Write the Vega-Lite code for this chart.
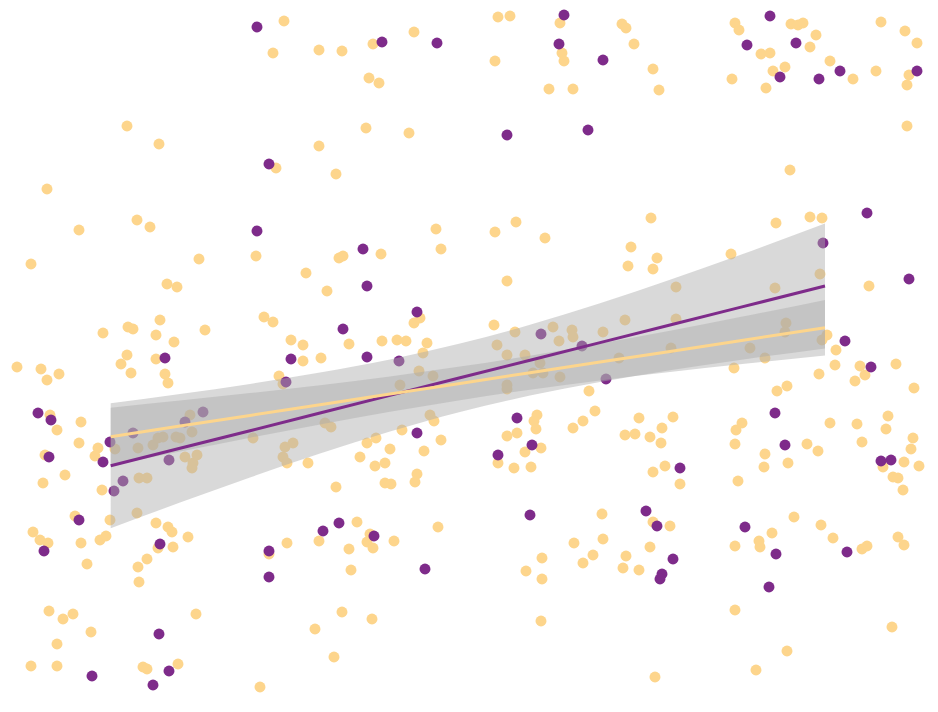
{
"$schema": "https://vega.github.io/schema/vega-lite/v6.json",
"width": 938, "height": 712,
"autosize": {"type": "fit", "contains": "padding"},
"padding": 0,
"background": "white",
"config": {"view": {"stroke": null}},
"datasets": {
"points": [
{"g":"a","x":284,"y":21},{"g":"a","x":273,"y":53},{"g":"a","x":127,"y":126},{"g":"a","x":159,"y":144},{"g":"a","x":276,"y":168},{"g":"a","x":47,"y":189},{"g":"a","x":79,"y":230},{"g":"a","x":137,"y":220},{"g":"a","x":150,"y":227},{"g":"a","x":31,"y":264},{"g":"a","x":199,"y":259},{"g":"a","x":256,"y":256},{"g":"a","x":306,"y":273},{"g":"a","x":167,"y":284},{"g":"a","x":177,"y":287},{"g":"a","x":264,"y":317},{"g":"a","x":273,"y":322},{"g":"a","x":103,"y":333},{"g":"a","x":128,"y":327},{"g":"a","x":133,"y":329},{"g":"a","x":160,"y":320},{"g":"a","x":156,"y":335},{"g":"a","x":174,"y":342},{"g":"a","x":205,"y":330},{"g":"a","x":291,"y":340},{"g":"a","x":303,"y":345},
{"g":"a","x":319,"y":50},{"g":"a","x":342,"y":51},{"g":"a","x":373,"y":44},{"g":"a","x":414,"y":32},{"g":"a","x":369,"y":78},{"g":"a","x":379,"y":83},{"g":"a","x":498,"y":17},{"g":"a","x":510,"y":16},{"g":"a","x":560,"y":23},{"g":"a","x":562,"y":53},{"g":"a","x":564,"y":61},{"g":"a","x":495,"y":61},{"g":"a","x":549,"y":89},{"g":"a","x":573,"y":89},{"g":"a","x":366,"y":128},{"g":"a","x":409,"y":133},{"g":"a","x":319,"y":146},{"g":"a","x":336,"y":174},{"g":"a","x":436,"y":229},{"g":"a","x":441,"y":249},{"g":"a","x":495,"y":232},{"g":"a","x":516,"y":222},{"g":"a","x":545,"y":238},{"g":"a","x":381,"y":254},{"g":"a","x":339,"y":258},{"g":"a","x":343,"y":256},{"g":"a","x":327,"y":291},{"g":"a","x":507,"y":281},{"g":"a","x":414,"y":323},{"g":"a","x":420,"y":318},{"g":"a","x":349,"y":344},{"g":"a","x":382,"y":341},{"g":"a","x":397,"y":340},{"g":"a","x":406,"y":341},{"g":"a","x":427,"y":343},{"g":"a","x":494,"y":325},{"g":"a","x":515,"y":332},{"g":"a","x":553,"y":327},{"g":"a","x":572,"y":330},{"g":"a","x":573,"y":337},{"g":"a","x":603,"y":332},{"g":"a","x":497,"y":345},{"g":"a","x":559,"y":341},
{"g":"a","x":622,"y":24},{"g":"a","x":626,"y":28},{"g":"a","x":634,"y":44},{"g":"a","x":653,"y":69},{"g":"a","x":659,"y":90},{"g":"a","x":735,"y":23},{"g":"a","x":739,"y":30},{"g":"a","x":791,"y":24},{"g":"a","x":798,"y":25},{"g":"a","x":803,"y":23},{"g":"a","x":816,"y":35},{"g":"a","x":810,"y":47},{"g":"a","x":761,"y":54},{"g":"a","x":770,"y":53},{"g":"a","x":830,"y":61},{"g":"a","x":853,"y":79},{"g":"a","x":876,"y":71},{"g":"a","x":881,"y":22},{"g":"a","x":905,"y":31},{"g":"a","x":917,"y":43},{"g":"a","x":909,"y":75},{"g":"a","x":907,"y":85},{"g":"a","x":773,"y":71},{"g":"a","x":785,"y":67},{"g":"a","x":732,"y":79},{"g":"a","x":766,"y":88},{"g":"a","x":907,"y":126},{"g":"a","x":790,"y":170},{"g":"a","x":651,"y":218},{"g":"a","x":776,"y":223},{"g":"a","x":810,"y":217},{"g":"a","x":822,"y":218},{"g":"a","x":631,"y":247},{"g":"a","x":628,"y":266},{"g":"a","x":657,"y":258},{"g":"a","x":653,"y":269},{"g":"a","x":731,"y":254},{"g":"a","x":676,"y":287},{"g":"a","x":775,"y":288},{"g":"a","x":820,"y":274},{"g":"a","x":869,"y":286},{"g":"a","x":625,"y":320},{"g":"a","x":676,"y":319},{"g":"a","x":786,"y":323},{"g":"a","x":785,"y":332},{"g":"a","x":750,"y":348},{"g":"a","x":671,"y":348},{"g":"a","x":822,"y":340},{"g":"a","x":827,"y":335},{"g":"a","x":836,"y":350},
{"g":"a","x":17,"y":367},{"g":"a","x":41,"y":369},{"g":"a","x":47,"y":380},{"g":"a","x":59,"y":374},{"g":"a","x":127,"y":355},{"g":"a","x":121,"y":364},{"g":"a","x":131,"y":373},{"g":"a","x":156,"y":359},{"g":"a","x":165,"y":374},{"g":"a","x":168,"y":383},{"g":"a","x":303,"y":361},{"g":"a","x":321,"y":358},{"g":"a","x":279,"y":376},{"g":"a","x":283,"y":384},{"g":"a","x":50,"y":415},{"g":"a","x":57,"y":430},{"g":"a","x":81,"y":422},{"g":"a","x":79,"y":443},{"g":"a","x":45,"y":455},{"g":"a","x":65,"y":475},{"g":"a","x":43,"y":483},{"g":"a","x":98,"y":448},{"g":"a","x":95,"y":456},{"g":"a","x":102,"y":490},{"g":"a","x":75,"y":516},{"g":"a","x":110,"y":520},{"g":"a","x":137,"y":513},{"g":"a","x":115,"y":449},{"g":"a","x":138,"y":448},{"g":"a","x":139,"y":478},{"g":"a","x":147,"y":478},{"g":"a","x":158,"y":438},{"g":"a","x":163,"y":437},{"g":"a","x":153,"y":445},{"g":"a","x":176,"y":437},{"g":"a","x":190,"y":415},{"g":"a","x":180,"y":438},{"g":"a","x":192,"y":432},{"g":"a","x":185,"y":457},{"g":"a","x":193,"y":463},{"g":"a","x":197,"y":455},{"g":"a","x":192,"y":468},{"g":"a","x":253,"y":438},{"g":"a","x":285,"y":447},{"g":"a","x":293,"y":443},{"g":"a","x":283,"y":457},{"g":"a","x":287,"y":463},{"g":"a","x":308,"y":463},{"g":"a","x":325,"y":423},{"g":"a","x":331,"y":427},{"g":"a","x":33,"y":532},{"g":"a","x":40,"y":540},{"g":"a","x":48,"y":543},{"g":"a","x":81,"y":543},{"g":"a","x":100,"y":540},{"g":"a","x":106,"y":536},{"g":"a","x":87,"y":564},{"g":"a","x":156,"y":523},{"g":"a","x":168,"y":527},{"g":"a","x":172,"y":532},{"g":"a","x":188,"y":537},{"g":"a","x":158,"y":548},{"g":"a","x":173,"y":547},{"g":"a","x":147,"y":559},{"g":"a","x":138,"y":567},{"g":"a","x":139,"y":582},{"g":"a","x":269,"y":554},{"g":"a","x":287,"y":543},{"g":"a","x":49,"y":611},{"g":"a","x":63,"y":619},{"g":"a","x":73,"y":614},{"g":"a","x":91,"y":632},{"g":"a","x":196,"y":614},{"g":"a","x":57,"y":644},{"g":"a","x":31,"y":666},{"g":"a","x":57,"y":666},{"g":"a","x":143,"y":667},{"g":"a","x":147,"y":669},{"g":"a","x":178,"y":664},{"g":"a","x":260,"y":687},
{"g":"a","x":419,"y":371},{"g":"a","x":433,"y":376},{"g":"a","x":400,"y":385},{"g":"a","x":423,"y":353},{"g":"a","x":507,"y":355},{"g":"a","x":525,"y":355},{"g":"a","x":507,"y":385},{"g":"a","x":507,"y":389},{"g":"a","x":540,"y":363},{"g":"a","x":543,"y":373},{"g":"a","x":533,"y":373},{"g":"a","x":560,"y":377},{"g":"a","x":589,"y":391},{"g":"a","x":595,"y":411},{"g":"a","x":573,"y":428},{"g":"a","x":583,"y":421},{"g":"a","x":430,"y":415},{"g":"a","x":434,"y":421},{"g":"a","x":402,"y":430},{"g":"a","x":441,"y":440},{"g":"a","x":367,"y":443},{"g":"a","x":376,"y":438},{"g":"a","x":390,"y":449},{"g":"a","x":424,"y":451},{"g":"a","x":360,"y":457},{"g":"a","x":375,"y":466},{"g":"a","x":385,"y":463},{"g":"a","x":417,"y":474},{"g":"a","x":415,"y":482},{"g":"a","x":385,"y":483},{"g":"a","x":391,"y":484},{"g":"a","x":336,"y":487},{"g":"a","x":537,"y":415},{"g":"a","x":534,"y":421},{"g":"a","x":536,"y":429},{"g":"a","x":507,"y":436},{"g":"a","x":517,"y":433},{"g":"a","x":525,"y":452},{"g":"a","x":541,"y":448},{"g":"a","x":498,"y":463},{"g":"a","x":514,"y":468},{"g":"a","x":531,"y":467},{"g":"a","x":357,"y":522},{"g":"a","x":319,"y":541},{"g":"a","x":370,"y":534},{"g":"a","x":367,"y":542},{"g":"a","x":373,"y":548},{"g":"a","x":349,"y":549},{"g":"a","x":394,"y":541},{"g":"a","x":438,"y":527},{"g":"a","x":351,"y":570},{"g":"a","x":602,"y":514},{"g":"a","x":574,"y":543},{"g":"a","x":603,"y":539},{"g":"a","x":593,"y":555},{"g":"a","x":583,"y":563},{"g":"a","x":626,"y":556},{"g":"a","x":623,"y":568},{"g":"a","x":542,"y":558},{"g":"a","x":526,"y":571},{"g":"a","x":542,"y":579},{"g":"a","x":342,"y":612},{"g":"a","x":372,"y":619},{"g":"a","x":315,"y":629},{"g":"a","x":334,"y":657},{"g":"a","x":541,"y":621},
{"g":"a","x":619,"y":358},{"g":"a","x":765,"y":358},{"g":"a","x":835,"y":365},{"g":"a","x":819,"y":374},{"g":"a","x":734,"y":368},{"g":"a","x":860,"y":366},{"g":"a","x":865,"y":375},{"g":"a","x":855,"y":381},{"g":"a","x":896,"y":364},{"g":"a","x":914,"y":388},{"g":"a","x":777,"y":391},{"g":"a","x":787,"y":386},{"g":"a","x":639,"y":418},{"g":"a","x":625,"y":435},{"g":"a","x":635,"y":434},{"g":"a","x":662,"y":428},{"g":"a","x":673,"y":417},{"g":"a","x":650,"y":437},{"g":"a","x":661,"y":443},{"g":"a","x":736,"y":430},{"g":"a","x":742,"y":423},{"g":"a","x":735,"y":444},{"g":"a","x":830,"y":423},{"g":"a","x":857,"y":424},{"g":"a","x":888,"y":416},{"g":"a","x":886,"y":429},{"g":"a","x":862,"y":442},{"g":"a","x":913,"y":438},{"g":"a","x":911,"y":449},{"g":"a","x":807,"y":444},{"g":"a","x":818,"y":451},{"g":"a","x":765,"y":454},{"g":"a","x":764,"y":467},{"g":"a","x":788,"y":463},{"g":"a","x":883,"y":467},{"g":"a","x":904,"y":462},{"g":"a","x":919,"y":466},{"g":"a","x":893,"y":477},{"g":"a","x":898,"y":478},{"g":"a","x":903,"y":490},{"g":"a","x":738,"y":481},{"g":"a","x":653,"y":472},{"g":"a","x":665,"y":466},{"g":"a","x":680,"y":484},{"g":"a","x":653,"y":522},{"g":"a","x":670,"y":526},{"g":"a","x":650,"y":547},{"g":"a","x":639,"y":570},{"g":"a","x":794,"y":517},{"g":"a","x":821,"y":525},{"g":"a","x":833,"y":538},{"g":"a","x":772,"y":533},{"g":"a","x":759,"y":541},{"g":"a","x":760,"y":547},{"g":"a","x":735,"y":546},{"g":"a","x":862,"y":549},{"g":"a","x":867,"y":546},{"g":"a","x":898,"y":537},{"g":"a","x":904,"y":545},{"g":"a","x":735,"y":610},{"g":"a","x":892,"y":627},{"g":"a","x":787,"y":651},{"g":"a","x":756,"y":670},{"g":"a","x":655,"y":677},
{"g":"b","x":257,"y":27},{"g":"b","x":269,"y":164},{"g":"b","x":257,"y":231},{"g":"b","x":382,"y":42},{"g":"b","x":437,"y":43},{"g":"b","x":564,"y":15},{"g":"b","x":559,"y":44},{"g":"b","x":603,"y":60},{"g":"b","x":507,"y":135},{"g":"b","x":588,"y":130},{"g":"b","x":363,"y":249},{"g":"b","x":367,"y":286},{"g":"b","x":417,"y":312},{"g":"b","x":343,"y":329},{"g":"b","x":367,"y":357},{"g":"b","x":399,"y":361},{"g":"b","x":541,"y":334},{"g":"b","x":582,"y":346},{"g":"b","x":517,"y":418},{"g":"b","x":417,"y":433},{"g":"b","x":532,"y":445},{"g":"b","x":498,"y":455},{"g":"b","x":606,"y":379},{"g":"b","x":323,"y":531},{"g":"b","x":339,"y":523},{"g":"b","x":374,"y":536},{"g":"b","x":425,"y":569},{"g":"b","x":530,"y":515},{"g":"b","x":165,"y":358},{"g":"b","x":291,"y":359},{"g":"b","x":286,"y":382},{"g":"b","x":38,"y":413},{"g":"b","x":51,"y":420},{"g":"b","x":49,"y":457},{"g":"b","x":103,"y":462},{"g":"b","x":110,"y":442},{"g":"b","x":114,"y":491},{"g":"b","x":123,"y":481},{"g":"b","x":79,"y":520},{"g":"b","x":133,"y":433},{"g":"b","x":169,"y":460},{"g":"b","x":185,"y":422},{"g":"b","x":203,"y":412},{"g":"b","x":44,"y":551},{"g":"b","x":160,"y":544},{"g":"b","x":269,"y":551},{"g":"b","x":269,"y":577},{"g":"b","x":159,"y":634},{"g":"b","x":92,"y":676},{"g":"b","x":169,"y":671},{"g":"b","x":153,"y":685},{"g":"b","x":770,"y":16},{"g":"b","x":796,"y":43},{"g":"b","x":747,"y":45},{"g":"b","x":840,"y":71},{"g":"b","x":917,"y":71},{"g":"b","x":780,"y":77},{"g":"b","x":819,"y":79},{"g":"b","x":867,"y":213},{"g":"b","x":823,"y":243},{"g":"b","x":909,"y":279},{"g":"b","x":845,"y":341},{"g":"b","x":871,"y":367},{"g":"b","x":775,"y":413},{"g":"b","x":785,"y":445},{"g":"b","x":881,"y":461},{"g":"b","x":891,"y":460},{"g":"b","x":680,"y":468},{"g":"b","x":646,"y":511},{"g":"b","x":657,"y":526},{"g":"b","x":673,"y":559},{"g":"b","x":662,"y":574},{"g":"b","x":660,"y":579},{"g":"b","x":745,"y":527},{"g":"b","x":776,"y":554},{"g":"b","x":847,"y":552},{"g":"b","x":769,"y":587}
],
"bands": [
{"g":"b","x":110.7,"lo":403.2,"hi":528.2,"fit":465.7},
{"g":"b","x":180,"lo":394.0,"hi":502.6,"fit":448.3},
{"g":"b","x":250,"lo":383.9,"hi":477.5,"fit":430.7},
{"g":"b","x":320,"lo":372.5,"hi":453.5,"fit":413.0},
{"g":"b","x":390,"lo":359.4,"hi":431.5,"fit":395.4},
{"g":"b","x":460,"lo":343.6,"hi":412.0,"fit":377.8},
{"g":"b","x":530,"lo":324.8,"hi":395.6,"fit":360.2},
{"g":"b","x":600,"lo":303.3,"hi":381.9,"fit":342.6},
{"g":"b","x":670,"lo":279.8,"hi":370.2,"fit":325.0},
{"g":"b","x":740,"lo":254.9,"hi":359.9,"fit":307.4},
{"g":"b","x":825,"lo":223.5,"hi":348.5,"fit":286.0},
{"g":"a","x":110.7,"lo":407.7,"hi":465.7,"fit":436.7},
{"g":"a","x":180,"lo":400.6,"hi":451.6,"fit":426.1},
{"g":"a","x":250,"lo":393.1,"hi":437.7,"fit":415.4},
{"g":"a","x":320,"lo":385.2,"hi":424.4,"fit":404.8},
{"g":"a","x":390,"lo":376.4,"hi":411.8,"fit":394.1},
{"g":"a","x":460,"lo":366.6,"hi":400.2,"fit":383.4},
{"g":"a","x":530,"lo":355.7,"hi":389.7,"fit":372.7},
{"g":"a","x":600,"lo":343.6,"hi":380.4,"fit":362.0},
{"g":"a","x":670,"lo":330.7,"hi":372.1,"fit":351.4},
{"g":"a","x":740,"lo":317.1,"hi":364.3,"fit":340.7},
{"g":"a","x":825,"lo":299.9,"hi":355.5,"fit":327.7}
]
},
"layer": [
{
"data": {"name": "points"},
"mark": {"type": "circle", "size": 120, "opacity": 1},
"encoding": {
"x": {"field": "x", "type": "quantitative", "scale": {"domain": [0, 938], "nice": false, "zero": false}, "axis": null},
"y": {"field": "y", "type": "quantitative", "scale": {"domain": [0, 712], "reverse": true, "nice": false, "zero": false}, "axis": null},
"color": {"field": "g", "type": "nominal", "scale": {"domain": ["a", "b"], "range": ["#FDD58C", "#7E2B8A"]}, "legend": null}
}
},
{
"data": {"name": "bands"},
"mark": {"type": "area", "color": "#aaaaaa", "opacity": 0.45, "interpolate": "monotone"},
"encoding": {
"x": {"field": "x", "type": "quantitative"},
"y": {"field": "lo", "type": "quantitative"},
"y2": {"field": "hi"},
"detail": {"field": "g", "type": "nominal"}
}
},
{
"data": {"name": "bands"},
"mark": {"type": "line", "strokeWidth": 3},
"encoding": {
"x": {"field": "x", "type": "quantitative"},
"y": {"field": "fit", "type": "quantitative"},
"color": {"field": "g", "type": "nominal", "legend": null}
}
}
]
}
